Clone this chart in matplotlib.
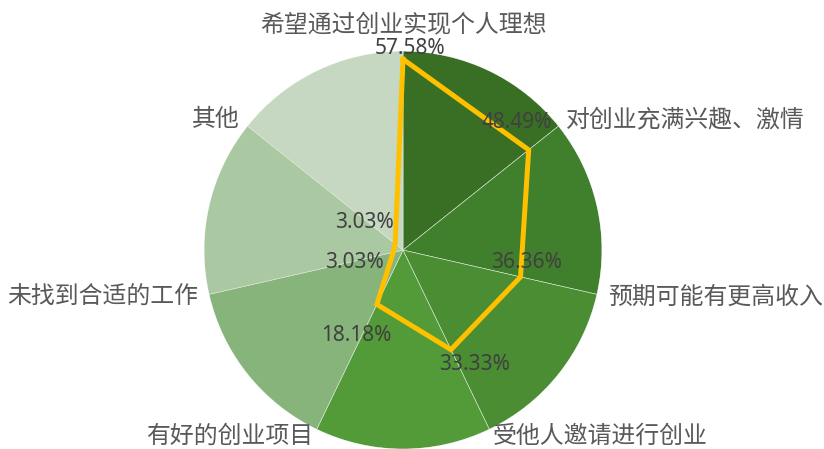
import numpy as np
import matplotlib
matplotlib.use('Agg')
import matplotlib.pyplot as plt

# categories (clockwise from the top) and share of respondents in %
categories = ['希望通过创业实现个人理想', '对创业充满兴趣、激情', '预期可能有更高收入',
              '受他人邀请进行创业', '有好的创业项目', '未找到合适的工作', '其他']
values = [57.58, 48.49, 36.36, 33.33, 18.18, 3.03, 3.03]
value_labels = ['57.58%', '48.49%', '36.36%', '33.33%', '18.18%', '3.03%', '3.03%']
# background sector colours
sector_colors = ['#386F24', '#40802C', '#4A8D33', '#529B38', '#86B47A', '#AAC8A2', '#C6D8C1']

rmax = 60
n = len(categories)
theta = np.arange(n) * 2 * np.pi / n

fig = plt.figure(figsize=(8.24, 4.49), dpi=100)
ax = fig.add_axes([0.2476, 0.0, 0.483, 0.886], projection='polar')
ax.set_theta_offset(np.pi / 2)
ax.set_theta_direction(-1)
ax.set_ylim(0, rmax)

# pie-like background sectors between the axes
ax.bar(theta, [rmax] * n, width=2 * np.pi / n, align='edge', color=sector_colors,
       edgecolor='#DDE8D8', linewidth=0.4, zorder=1)

# radar line
t = np.append(theta, theta[0])
v = np.append(values, values[0])
ax.plot(t, v, color='#FFC000', linewidth=3.6, solid_joinstyle='miter', zorder=3)

# value labels (offsets in pixels, like Excel's default placement)
offsets = [(7, 11), (-12, 27), (6, 14), (24, -15), (-21, -31), (-39, -10), (-31, 21)]
for i in range(n):
    ax.annotate(value_labels[i], (theta[i], values[i]), xytext=offsets[i],
                textcoords='offset pixels', ha='center', va='center',
                fontsize=15, color='#404040', family=['Noto Sans', 'DejaVu Sans'], zorder=4)

# category labels around the circle
label_r = [68, 63, 63.5, 62.3, 62.3, 63.5, 63]
for i in range(n):
    s = np.sin(theta[i])
    if abs(s) < 0.01:
        ha = 'center'
    elif s > 0:
        ha = 'left'
    else:
        ha = 'right'
    ax.text(theta[i], label_r[i], categories[i], ha=ha, va='center', fontsize=17.2,
            color='#595959', family=['Noto Sans CJK SC', 'DejaVu Sans'], clip_on=False)

ax.grid(False)
ax.set_xticks([])
ax.set_yticks([])
ax.spines['polar'].set_visible(False)

fig.savefig('out.png', dpi=100)
